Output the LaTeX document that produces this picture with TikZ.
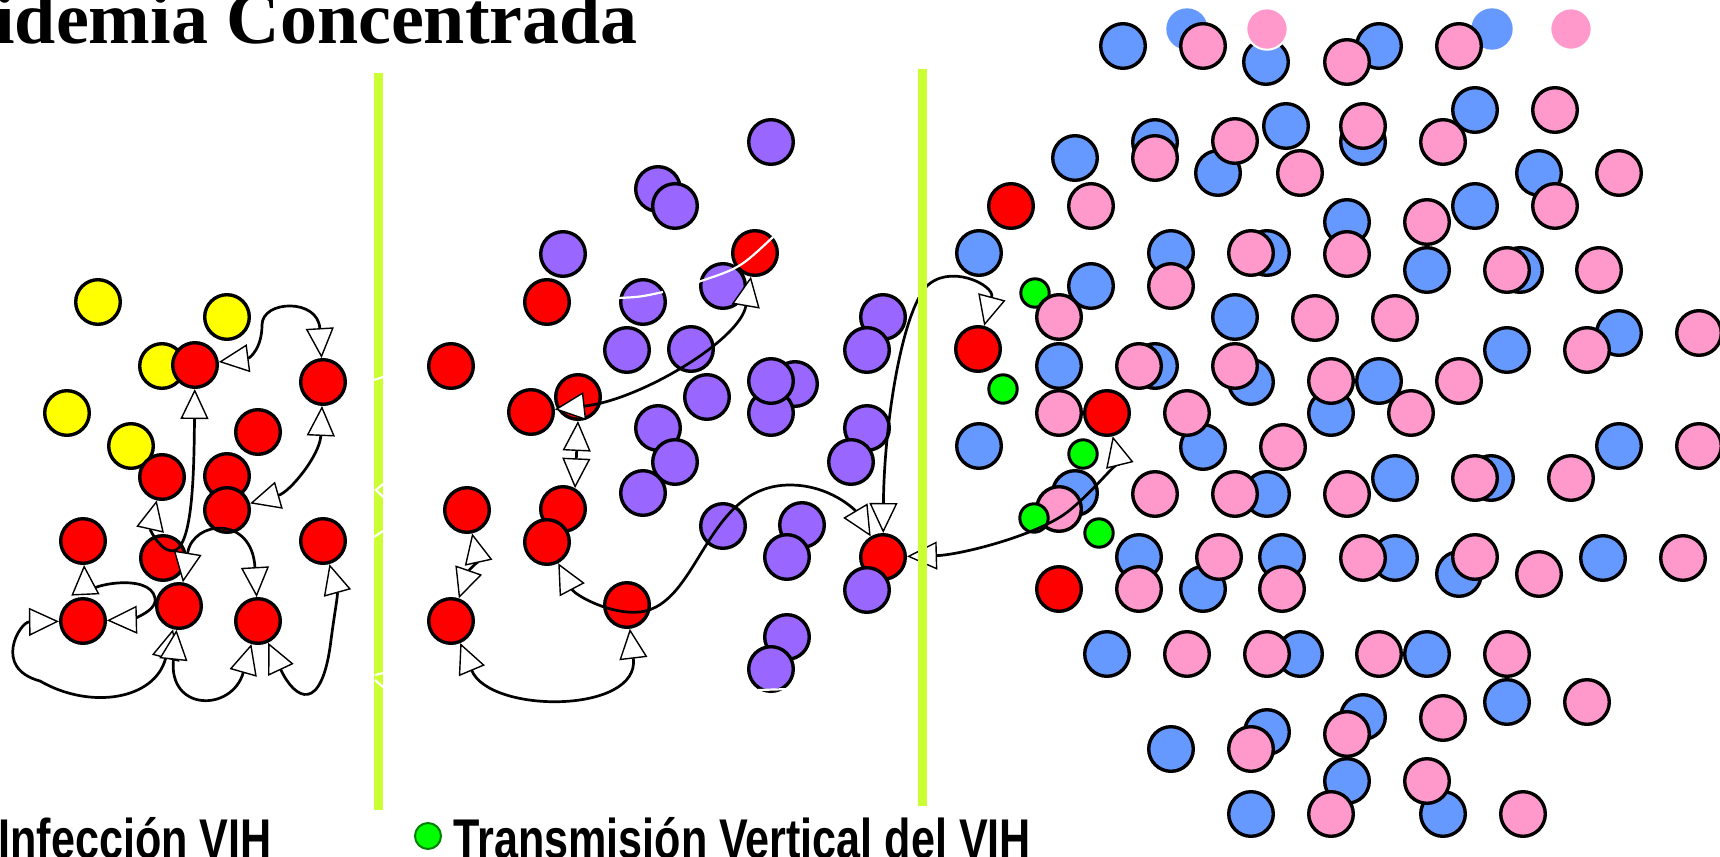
\documentclass[tikz,border=0pt]{standalone}
\usepackage{fontspec}
\usepackage{graphicx}
\usetikzlibrary{arrows.meta}
\newfontfamily\titlefont{Liberation Serif}
\newfontfamily\legfont{Liberation Sans}
\definecolor{cred}{HTML}{FF0000}
\definecolor{cyel}{HTML}{FFFF00}
\definecolor{cpur}{HTML}{9966FF}
\definecolor{cblu}{HTML}{6699FF}
\definecolor{cpnk}{HTML}{FF99CC}
\definecolor{cgrn}{HTML}{00FF00}
\definecolor{cdkg}{HTML}{008000}
\definecolor{cbar}{HTML}{CCFF33}
\tikzset{
  otri/.tip={Triangle[fill=white,length=15pt,width=14pt,line width=0.7pt]},
  dot/.style={circle, draw=black, line width=1.7pt, minimum size=22.3pt, inner sep=0pt},
  rd/.style={dot, fill=cred},
  yl/.style={dot, fill=cyel},
  pu/.style={dot, fill=cpur},
  bl/.style={dot, fill=cblu},
  pk/.style={dot, fill=cpnk},
  gr/.style={circle, draw=black, line width=1.5pt, minimum size=14.2pt, inner sep=0pt, fill=cgrn},
  nb/.style={circle, fill=cblu, minimum size=20.7pt, inner sep=0pt},
  np/.style={circle, fill=cpnk, draw=white, line width=1pt, minimum size=20.7pt, inner sep=0pt},
  link/.style={draw=black, line width=1.35pt, arrows={otri-otri}},
  wstroke/.style={draw=white, line width=1.1pt},
}
\begin{document}
\begin{tikzpicture}[x=0.5pt,y=-0.5pt]
\useasboundingbox (0,0) rectangle (1720,857);
% title
\node[anchor=base west, inner sep=0pt] (title) at (-6,43) {\titlefont\bfseries\fontsize{37pt}{40pt}\selectfont idemia Concentrada};
% ---------- left panel ----------
\node[yl] (y1) at (98,302) {};
\node[yl] (y2) at (227,317) {};
\node[yl] (y3) at (162,366) {};
\node[rd] (a1) at (195,365) {};
\node[rd] (a2) at (323,382) {};
\node[yl] (y4) at (67,413) {};
\node[yl] (y5) at (131,446) {};
\node[rd] (a3) at (258,432) {};
\node[rd] (a4) at (162,477) {};
\node[rd] (a5) at (227,476) {};
\node[rd] (a6) at (227,510) {};
\node[rd] (a7) at (83,541) {};
\node[rd] (a8) at (323,541) {};
\node[rd] (a9) at (163,558) {};
\node[rd] (a10) at (179,606) {};
\node[rd] (a11) at (83,621) {};
\node[rd] (a12) at (258,621) {};
% ---------- middle panel ----------
\node[pu] (m1) at (771,142) {};
\node[pu] (m2) at (658,189) {};
\node[pu] (m3) at (675,206) {};
\node[pu] (m4) at (563,254) {};
\node[rd] (b1) at (547,302) {};
\node[pu] (m5) at (643,302) {};
\node[rd] (b2) at (755,253) {};
\node[pu] (m6) at (723,286) {};
\node[rd] (b3) at (451,366) {};
\node[pu] (m7) at (627,350) {};
\node[pu] (m8) at (691,349) {};
\node[pu] (m9) at (883,317) {};
\node[pu] (m10) at (867,350) {};
\node[rd] (b4) at (578,397) {};
\node[rd] (b5) at (531,412) {};
\node[pu] (m11) at (707,397) {};
\node[pu] (m12) at (795,384) {};
\node[pu] (m13) at (771,413) {};
\node[pu] (m14) at (771,381) {};
\node[pu] (m15) at (658,428) {};
\node[pu] (m16) at (675,462) {};
\node[pu] (m17) at (643,493) {};
\node[pu] (m18) at (867,428) {};
\node[pu] (m19) at (851,462) {};
\node[rd] (b6) at (467,510) {};
\node[rd] (b7) at (563,509) {};
\node[rd] (b8) at (547,542) {};
\node[pu] (m20) at (723,526) {};
\node[pu] (m21) at (802,525) {};
\node[pu] (m22) at (787,557) {};
\node[rd] (b9) at (883,557) {};
\node[pu] (m23) at (867,590) {};
\node[rd] (b10) at (627,605) {};
\node[rd] (b11) at (451,621) {};
\node[pu] (m24) at (787,637) {};
\node[pu] (m25) at (771,669) {};
% ---------- right panel ----------
\node[nb] (n1) at (1187,29) {};
\node[bl] (c1) at (1123,46) {};
\node[pk] (c2) at (1203,46) {};
\node[bl] (c3) at (1266,62) {};
\node[np] (n2) at (1267,29) {};
\node[bl] (c4) at (1379,46) {};
\node[pk] (c5) at (1347,62) {};
\node[nb] (n3) at (1492,29) {};
\node[pk] (c6) at (1459,46) {};
\node[np] (n4) at (1571,29) {};
\node[bl] (c7) at (1475,110) {};
\node[pk] (c8) at (1555,110) {};
\node[bl] (c9) at (1075,158) {};
\node[bl] (c10) at (1155,142) {};
\node[pk] (c11) at (1155,158) {};
\node[bl] (c12) at (1218,173) {};
\node[pk] (c13) at (1235,141) {};
\node[bl] (c14) at (1286,126) {};
\node[pk] (c15) at (1300,173) {};
\node[bl] (c16) at (1363,142) {};
\node[pk] (c17) at (1363,126) {};
\node[pk] (c18) at (1443,142) {};
\node[bl] (c19) at (1539,173) {};
\node[pk] (c20) at (1555,206) {};
\node[pk] (c21) at (1619,173) {};
\node[bl] (c22) at (1475,206) {};
\node[rd] (r1) at (1011,206) {};
\node[pk] (c23) at (1091,206) {};
\node[bl] (c24) at (979,253) {};
\node[bl] (c25) at (1171,253) {};
\node[pk] (c26) at (1171,286) {};
\node[bl] (c27) at (1267,253) {};
\node[pk] (c28) at (1251,253) {};
\node[bl] (c29) at (1347,222) {};
\node[pk] (c30) at (1347,254) {};
\node[pk] (c31) at (1427,222) {};
\node[bl] (c32) at (1427,270) {};
\node[bl] (c33) at (1520,270) {};
\node[pk] (c34) at (1507,270) {};
\node[pk] (c35) at (1599,270) {};
\node[gr] (g1) at (1035,293) {};
\node[bl] (c36) at (1091,286) {};
\node[pk] (c37) at (1059,317) {};
\node[bl] (c38) at (1235,317) {};
\node[pk] (c39) at (1315,318) {};
\node[pk] (c40) at (1395,318) {};
\node[bl] (c41) at (1507,350) {};
\node[bl] (c42) at (1619,333) {};
\node[pk] (c43) at (1587,350) {};
\node[pk] (c44) at (1699,333) {};
\node[rd] (r2) at (978,349) {};
\node[bl] (c45) at (1059,366) {};
\node[bl] (c46) at (1155,366) {};
\node[pk] (c47) at (1139,366) {};
\node[bl] (c48) at (1251,382) {};
\node[pk] (c49) at (1235,366) {};
\node[gr] (g2) at (1003,389) {};
\node[bl] (c50) at (1331,413) {};
\node[pk] (c51) at (1331,381) {};
\node[bl] (c52) at (1379,381) {};
\node[pk] (c53) at (1411,413) {};
\node[pk] (c54) at (1459,381) {};
\node[pk] (c55) at (1059,413) {};
\node[rd] (r3) at (1107,413) {};
\node[bl] (c56) at (1203,447) {};
\node[pk] (c57) at (1187,413) {};
\node[bl] (c58) at (979,446) {};
\node[gr] (g3) at (1083,454) {};
\node[pk] (c59) at (1283,447) {};
\node[bl] (c60) at (1619,446) {};
\node[pk] (c61) at (1699,446) {};
\node[bl] (c62) at (1075,493) {};
\node[pk] (c63) at (1059,509) {};
\node[gr] (g4) at (1034,518) {};
\node[gr] (g5) at (1099,533) {};
\node[pk] (c64) at (1155,494) {};
\node[bl] (c65) at (1267,494) {};
\node[pk] (c66) at (1235,494) {};
\node[bl] (c67) at (1395,478) {};
\node[pk] (c68) at (1347,494) {};
\node[bl] (c69) at (1491,478) {};
\node[pk] (c70) at (1475,478) {};
\node[pk] (c71) at (1571,478) {};
\node[bl] (c72) at (1139,557) {};
\node[pk] (c73) at (1139,589) {};
\node[bl] (c74) at (1203,589) {};
\node[pk] (c75) at (1219,557) {};
\node[bl] (c76) at (1282,557) {};
\node[pk] (c77) at (1282,589) {};
\node[bl] (c78) at (1395,558) {};
\node[pk] (c79) at (1363,558) {};
\node[bl] (c80) at (1459,574) {};
\node[pk] (c81) at (1475,557) {};
\node[pk] (c82) at (1539,574) {};
\node[bl] (c83) at (1603,558) {};
\node[pk] (c84) at (1683,558) {};
\node[rd] (r4) at (1059,589) {};
\node[bl] (c85) at (1107,654) {};
\node[pk] (c86) at (1187,654) {};
\node[bl] (c87) at (1300,654) {};
\node[pk] (c88) at (1267,654) {};
\node[pk] (c89) at (1379,654) {};
\node[bl] (c90) at (1427,654) {};
\node[bl] (c91) at (1507,702) {};
\node[pk] (c92) at (1507,654) {};
\node[pk] (c93) at (1587,702) {};
\node[bl] (c94) at (1171,749) {};
\node[bl] (c95) at (1267,732) {};
\node[pk] (c96) at (1251,749) {};
\node[bl] (c97) at (1363,717) {};
\node[pk] (c98) at (1347,734) {};
\node[pk] (c99) at (1443,718) {};
\node[bl] (c100) at (1347,781) {};
\node[pk] (c101) at (1331,814) {};
\node[bl] (c102) at (1443,814) {};
\node[pk] (c103) at (1427,781) {};
\node[pk] (c104) at (1523,814) {};
\node[bl] (c105) at (1251,814) {};
% ---------- connectors: left ----------
\draw[link] (a1) .. controls (250,358) and (262,348) .. (262,325) .. controls (262,300) and (318,298) .. (a2);
\draw[link] (a1) .. controls (194,470) and (193,540) .. (176,550) .. controls (163,556) and (150,530) .. (a4);
\draw[link] (a6) .. controls (290,492) and (320,455) .. (a2);
\draw[link] (a10) .. controls (193,520) and (252,515) .. (a12);
\draw[link] (a7) .. controls (85,585) and (150,572) .. (155,598) .. controls (158,613) and (125,620) .. (a11);
\draw[link] (a11) .. controls (20,622) and (-8,668) .. (40,681) .. controls (90,710) and (155,700) .. (a10);
\draw[link] (a10) .. controls (168,712) and (232,712) .. (a12);
\draw[link] (a12) .. controls (295,700) and (322,715) .. (331,640) .. controls (335,610) and (338,595) .. (a8);
% ---------- connectors: middle ----------
\draw[link] (b5) .. controls (640,400) and (740,340) .. (b2);
\draw[link] (b4.south) -- (b7.60);
\draw[link] (b6) .. controls (478,560) and (468,572) .. (b11);
\draw[link] (b11) .. controls (490,714) and (640,714) .. (b10);
\draw[link] (b8) .. controls (575,595) and (610,615) .. (640,612) .. controls (700,605) and (705,485) .. (790,485) .. controls (830,485) and (855,510) .. (b9);
\draw[link] (b9) .. controls (884,430) and (900,320) .. (925,288) .. controls (948,262) and (995,285) .. (r2);
\draw[link] (b9) .. controls (960,555) and (1040,535) .. (1070,510) .. controls (1100,485) and (1118,458) .. (r3);
% ---------- divider bars ----------
\fill[cbar] (374,73) rectangle (383,810);
\fill[cbar] (918,69) rectangle (927,806);
% ---------- white strokes ----------
\draw[wstroke] (618,298) .. controls (640,297) .. (663,292);
\draw[wstroke] (698,282) .. controls (740,268) .. (773,237);
\draw[wstroke] (758,690) -- (790,689);
\draw[wstroke] (374,380) -- (383,377);
\draw[wstroke] (383,484) -- (376,490) -- (383,497);
\draw[wstroke] (374,537) -- (383,531);
\draw[wstroke] (375,675) -- (383,673);
\draw[wstroke] (375,680) -- (383,687);
% ---------- legend ----------
\node[anchor=base west, inner sep=0pt] (leg1) at (-2,858) {\scalebox{0.77}[1]{\legfont\bfseries\fontsize{28pt}{30pt}\selectfont Infección VIH}};
\node[circle, fill=cgrn, draw=cdkg, line width=1pt, minimum size=13pt, inner sep=0pt] (legdot) at (428,836) {};
\node[anchor=base west, inner sep=0pt] (leg2) at (453,858) {\scalebox{0.77}[1]{\legfont\bfseries\fontsize{28pt}{30pt}\selectfont Transmisión Vertical del VIH}};
\end{tikzpicture}
\end{document}
